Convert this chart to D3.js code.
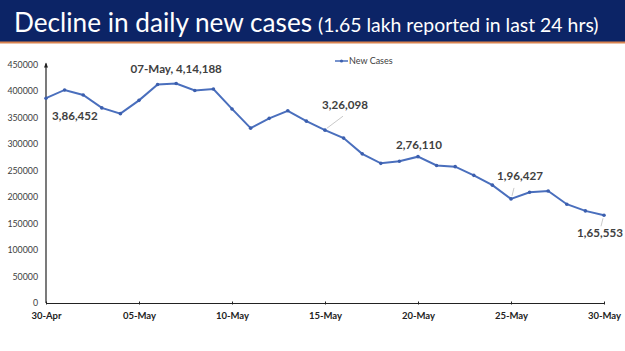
<!DOCTYPE html>
<html><head><meta charset="utf-8">
<script src="https://cdn.jsdelivr.net/npm/d3@7"></script>
<style>html,body{margin:0;padding:0;background:#fff;overflow:hidden}svg{display:block}</style>
</head><body>
<svg id="c" width="625" height="351"></svg>
<script>
const dates = ["30-Apr","01-May","02-May","03-May","04-May","05-May","06-May","07-May","08-May","09-May","10-May","11-May","12-May","13-May","14-May","15-May","16-May","17-May","18-May","19-May","20-May","21-May","22-May","23-May","24-May","25-May","26-May","27-May","28-May","29-May","30-May"];
const newCases = [386452,401993,392488,368147,357229,382315,412262,414188,401078,403738,366161,329942,348421,362727,343144,326098,311170,281386,263533,267334,276110,259551,257299,240842,222315,196427,208921,211298,186364,173790,165553];
const yTicks = [0,50000,100000,150000,200000,250000,300000,350000,400000,450000];
const xTickLabels = ["30-Apr","05-May","10-May","15-May","20-May","25-May","30-May"];
const annotations = [
  {i:0, text:"3,86,452"},
  {i:7, text:"07-May, 4,14,188"},
  {i:15, text:"3,26,098"},
  {i:20, text:"2,76,110"},
  {i:25, text:"1,96,427"},
  {i:30, text:"1,65,553"}
];
const titleMain = "Decline in daily new cases";
const titleSub = "(1.65 lakh reported in last 24 hrs)";
const legendLabel = "New Cases";

const svg = d3.select("#c");
const W=625,H=351;
const x0=46,x1=604,y0=303,y1=64.5;
const x = d3.scalePoint().domain(dates).range([x0,x1]);
const y = d3.scaleLinear().domain([0,450000]).range([y0,y1]);

// title bar
svg.append("rect").attr("x",0).attr("y",0).attr("width",W).attr("height",42).attr("fill","#0c2466");
svg.append("rect").attr("x",0).attr("y",41.5).attr("width",W).attr("height",2).attr("fill","#d9834f");
const t = svg.append("text").attr("x",14).attr("y",32).attr("fill","#fff").attr("font-family","Lato, 'Open Sans', sans-serif");
t.append("tspan").attr("font-size",26.2).text(titleMain);
t.append("tspan").attr("font-size",19.4).attr("dx",6).text(titleSub);

// y axis
const yAxis = d3.axisLeft(y).tickValues(yTicks).tickSize(0).tickPadding(8).tickFormat(d3.format("d"));
const gy = svg.append("g").attr("transform",`translate(${x0},0)`).call(yAxis);
gy.select(".domain").remove();
gy.selectAll("text").attr("font-family","Lato, sans-serif").attr("font-size",8.8).attr("fill","#404040");
svg.append("line").attr("x1",x0).attr("x2",x0).attr("y1",y0).attr("y2",y1-1).attr("stroke","#222").attr("stroke-width",1.2);
svg.append("path").attr("d",`M${x0-2},${y1+3} L${x0},${y1-2} L${x0+2},${y1+3} Z`).attr("fill","#222");

// x axis
const xAxis = d3.axisBottom(x).tickValues(xTickLabels).tickSize(3).tickSizeOuter(0).tickPadding(6);
const gx = svg.append("g").attr("transform",`translate(0,${y0})`).call(xAxis);
gx.select(".domain").attr("stroke","#222").attr("stroke-width",1.2);
gx.selectAll(".tick line").attr("stroke","#222").attr("y1",-1.5).attr("y2",1.5);
gx.selectAll("text").attr("font-family","Lato, sans-serif").attr("font-size",9.5).attr("font-weight","bold").attr("fill","#222");

// line
const line = d3.line().x((d,i)=>x(dates[i])).y(d=>y(d));
svg.append("path").datum(newCases).attr("d",line).attr("fill","none").attr("stroke","#4a6fbd").attr("stroke-width",2);
svg.selectAll("circle.pt").data(newCases).enter().append("circle").attr("class","pt")
  .attr("cx",(d,i)=>x(dates[i])).attr("cy",d=>y(d)).attr("r",1.8).attr("fill","#3c5fae");

// legend
svg.append("line").attr("x1",335).attr("x2",348).attr("y1",61).attr("y2",61).attr("stroke","#4a6fbd").attr("stroke-width",1.5);
svg.append("circle").attr("cx",341.5).attr("cy",61).attr("r",1.6).attr("fill","#3c5fae");
svg.append("text").attr("x",349).attr("y",64).attr("font-family","Lato, sans-serif").attr("font-size",9).attr("fill","#404040").text(legendLabel);

// annotations: offsets relative to point
const offs = {
  0:{dx:6,dy:22,anchor:"start"},
  7:{dx:0,dy:-10,anchor:"middle"},
  15:{dx:20,dy:-21,anchor:"middle",leader:[[2,-2],[18,-14]]},
  20:{dx:1,dy:-8,anchor:"middle"},
  25:{dx:9,dy:-19,anchor:"middle",leader:[[1,-3],[3,-11]]},
  30:{dx:-4,dy:22,anchor:"middle",leader:[[-1,3],[-3,11]]}
};
annotations.forEach(a=>{
  const px=x(dates[a.i]), py=y(newCases[a.i]);
  const o=offs[a.i];
  if(o.leader){
    svg.append("line").attr("x1",px+o.leader[0][0]).attr("y1",py+o.leader[0][1])
      .attr("x2",px+o.leader[1][0]).attr("y2",py+o.leader[1][1]).attr("stroke","#bbb").attr("stroke-width",0.8);
  }
  svg.append("text").attr("x",px+o.dx).attr("y",py+o.dy).attr("text-anchor",o.anchor)
    .attr("font-family","Lato, sans-serif").attr("font-size",11.6).attr("font-weight","bold").attr("fill","#404040").text(a.text);
});
</script>
</body></html>
